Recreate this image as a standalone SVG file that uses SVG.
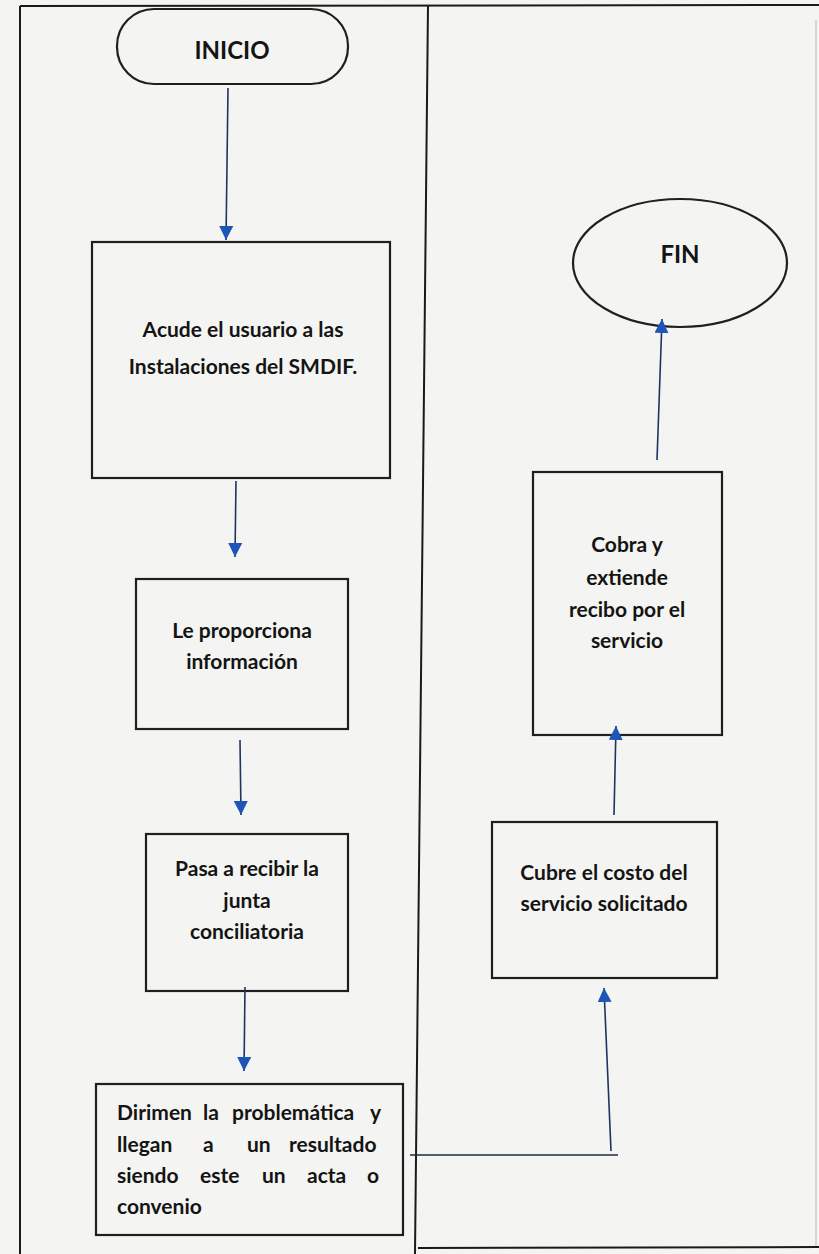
<svg xmlns="http://www.w3.org/2000/svg" width="819" height="1254" viewBox="0 0 819 1254">
<defs>
<style>
.bg{fill:#f4f4f2}
.frame{stroke:#1a1a1a;stroke-width:2;fill:none}
.faint{stroke:#b8b8b6;stroke-width:1;fill:none}
.box{fill:none;stroke:#1f1f1f;stroke-width:2.2}
.t{font-family:Lato,"Open Sans","Liberation Sans",sans-serif;font-size:21px;font-weight:bold;fill:#141414;text-anchor:middle}
.tl{font-family:Lato,"Open Sans","Liberation Sans",sans-serif;font-size:21px;font-weight:bold;fill:#141414}
.big{font-size:24px}
.conn{stroke:#1e3560;stroke-width:1.6;fill:none}
.plain{stroke:#1e2a40;stroke-width:1.4;fill:none}
</style>
<marker id="ah" viewBox="0 0 10 10" refX="10" refY="5" markerWidth="14" markerHeight="14" markerUnits="userSpaceOnUse" orient="auto">
<path d="M0,0 L10,5 L0,10 Z" fill="#1d56b8"/>
</marker>
</defs>
<rect class="bg" x="0" y="0" width="819" height="1254"/>
<g id="frame">
<line class="frame" x1="20" y1="6" x2="819" y2="5"/>
<line class="frame" x1="20" y1="6" x2="20" y2="1254"/>
<line class="frame" x1="428" y1="5" x2="415" y2="1254"/>
<line class="faint" x1="816" y1="20" x2="816" y2="1248"/>
<line class="frame" x1="418" y1="1248" x2="819" y2="1247"/>
</g>
<g id="inicio">
<rect class="box" x="117" y="9" width="231" height="75" rx="37" ry="37"/>
<text class="t big" x="232" y="59">INICIO</text>
</g>
<g id="acude">
<rect class="box" x="92" y="242" width="298" height="236"/>
<text class="t" x="243" y="337">Acude el usuario a las</text>
<text class="t" x="243" y="374">Instalaciones del SMDIF.</text>
</g>
<g id="proporciona">
<rect class="box" x="136" y="579" width="212" height="150"/>
<text class="t" x="242" y="638">Le proporciona</text>
<text class="t" x="242" y="669">información</text>
</g>
<g id="pasa">
<rect class="box" x="146" y="834" width="202" height="157"/>
<text class="t" x="247" y="876">Pasa a recibir la</text>
<text class="t" x="247" y="908">junta</text>
<text class="t" x="247" y="939">conciliatoria</text>
</g>
<g id="dirimen">
<rect class="box" x="96" y="1084" width="307" height="151"/>
<text class="tl" y="1120"><tspan x="117">Dirimen</tspan><tspan x="203">la</tspan><tspan x="232">problemática</tspan><tspan x="370">y</tspan></text>
<text class="tl" y="1152"><tspan x="117">llegan</tspan><tspan x="203">a</tspan><tspan x="247">un</tspan><tspan x="289">resultado</tspan></text>
<text class="tl" y="1183"><tspan x="117">siendo</tspan><tspan x="200">este</tspan><tspan x="262">un</tspan><tspan x="307">acta</tspan><tspan x="367">o</tspan></text>
<text class="tl" y="1214"><tspan x="117">convenio</tspan></text>
</g>
<g id="fin">
<ellipse class="box" cx="680" cy="263" rx="107" ry="64"/>
<text class="t big" x="680" y="263">FIN</text>
</g>
<g id="cobra">
<rect class="box" x="533" y="472" width="189" height="263"/>
<text class="t" x="627" y="552">Cobra y</text>
<text class="t" x="627" y="585">extiende</text>
<text class="t" x="627" y="617">recibo por el</text>
<text class="t" x="627" y="648">servicio</text>
</g>
<g id="cubre">
<rect class="box" x="492" y="822" width="225" height="156"/>
<text class="t" x="604" y="880">Cubre el costo del</text>
<text class="t" x="604" y="911">servicio solicitado</text>
</g>
<g id="connectors">
<line class="conn" x1="228" y1="88" x2="226" y2="240" marker-end="url(#ah)"/>
<line class="conn" x1="236" y1="481" x2="235" y2="557" marker-end="url(#ah)"/>
<line class="conn" x1="240" y1="740" x2="241" y2="815" marker-end="url(#ah)"/>
<line class="conn" x1="245" y1="987" x2="244" y2="1071" marker-end="url(#ah)"/>
<line class="plain" x1="410" y1="1155" x2="618" y2="1155"/>
<line class="conn" x1="611" y1="1151" x2="604" y2="988" marker-end="url(#ah)"/>
<line class="conn" x1="614" y1="815" x2="616" y2="726" marker-end="url(#ah)"/>
<line class="conn" x1="657" y1="460" x2="662" y2="319" marker-end="url(#ah)"/>
</g>
</svg>
